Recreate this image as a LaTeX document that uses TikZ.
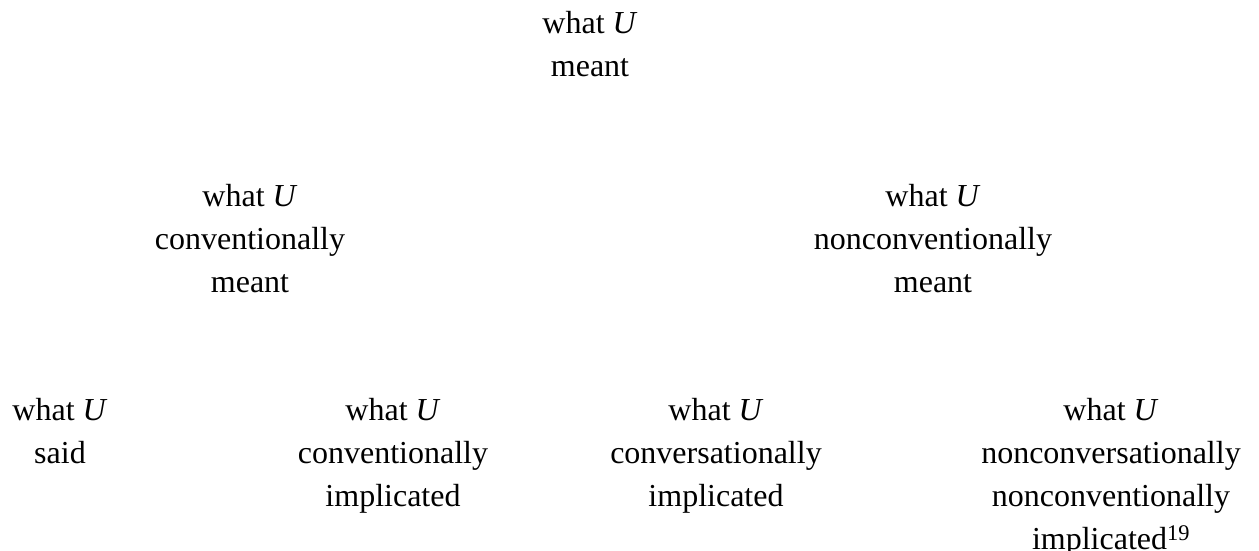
\documentclass[tikz,border=0pt]{standalone}
\usepackage{fontspec}
\setmainfont{Liberation Serif}
\begin{document}
\begin{tikzpicture}[x=1pt,y=-1pt,
  lbl/.style={anchor=north,inner sep=0pt,align=center,font=\fontsize{32}{43}\selectfont}]
\useasboundingbox (0,0) rectangle (1259,550);
\node[lbl] (meant) at (590,11) {what \textit{U}\\meant};
\node[lbl] (conv) at (250,184) {what \textit{U}\\conventionally\\meant};
\node[lbl] (nonconv) at (933,184) {what \textit{U}\\nonconventionally\\meant};
\node[lbl] (said) at (60,398) {what \textit{U}\\said};
\node[lbl] (convimp) at (393,398) {what \textit{U}\\conventionally\\implicated};
\node[lbl] (conversimp) at (716,398) {what \textit{U}\\conversationally\\implicated};
\node[lbl] (nonconversimp) at (1111,398) {what \textit{U}\\nonconversationally\\nonconventionally\\implicated\textsuperscript{19}};
\end{tikzpicture}
\end{document}
